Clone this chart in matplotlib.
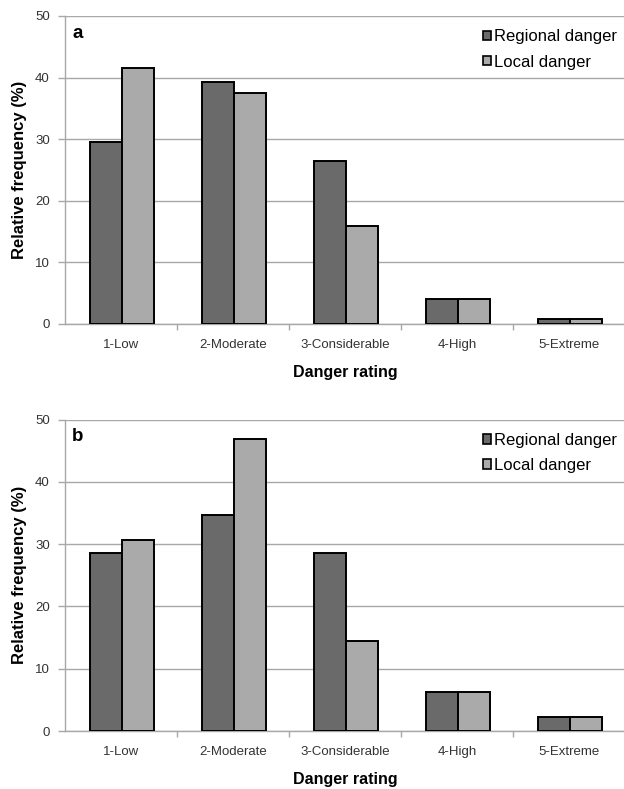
import matplotlib
matplotlib.use("Agg")
import matplotlib.pyplot as plt
from matplotlib.patches import Patch
import numpy as np

plt.rcParams['font.family'] = ['Liberation Sans', 'DejaVu Sans']

categories = ["1-Low", "2-Moderate", "3-Considerable", "4-High", "5-Extreme"]
series_names = ["Regional danger", "Local danger"]
regional_a = [29.6, 39.3, 26.4, 4.0, 0.8]
local_a = [41.6, 37.5, 15.9, 4.0, 0.8]
regional_b = [28.6, 34.7, 28.6, 6.2, 2.2]
local_b = [30.6, 46.9, 14.5, 6.2, 2.2]
panel_labels = ["a", "b"]
y_ticks = [0, 10, 20, 30, 40, 50]

dark = "#6a6a6a"
light = "#aaaaaa"
grid_c = "#a8a8a8"
W, H = 624, 789

fig = plt.figure(figsize=(W / 100, H / 100), dpi=100)

def px_axes(left, top, right, bottom):
    return fig.add_axes([left / W, 1 - bottom / H, (right - left) / W, (bottom - top) / H])

ax_a = px_axes(65, 16, 625, 324)
ax_b = px_axes(65, 419.5, 625, 731)

bw = 0.285
for ax, reg, loc, lab in [(ax_a, regional_a, local_a, panel_labels[0]),
                          (ax_b, regional_b, local_b, panel_labels[1])]:
    x = np.arange(len(categories))
    ax.bar(x - bw / 2 + 0.01, reg, bw, color=dark, edgecolor="black", linewidth=1.4, zorder=3)
    ax.bar(x + bw / 2 + 0.01, loc, bw, color=light, edgecolor="black", linewidth=1.4, zorder=3)
    ax.set_xlim(-0.5, len(categories) - 0.5)
    ax.set_ylim(0, 50)
    ax.set_yticks(y_ticks)
    ax.set_yticklabels([str(t) for t in y_ticks], fontsize=9.5, color="#333333")
    ax.yaxis.grid(True, color=grid_c, linewidth=1.0, zorder=0)
    ax.set_axisbelow(True)
    # category ticks
    ax.set_xticks(x)
    ax.set_xticklabels(categories, fontsize=9.5, color="#333333")
    ax.tick_params(axis="x", length=0, pad=11)
    ax.set_xticks(np.arange(0.5, len(categories) - 0.5, 1.0), minor=True)
    ax.tick_params(axis="x", which="minor", length=4, color=grid_c, width=1.0, direction="out")
    ax.tick_params(axis="y", length=5, color=grid_c, width=1.0, pad=6)
    for s in ["top", "right"]:
        ax.spines[s].set_visible(False)
    ax.spines["left"].set_color(grid_c)
    ax.spines["bottom"].set_color(grid_c)
    ax.spines["left"].set_linewidth(1.0)
    ax.spines["bottom"].set_linewidth(1.0)
    ax.set_xlabel("Danger rating", fontsize=11.5, fontweight="bold", labelpad=10)
    ax.set_ylabel("Relative frequency (%)", fontsize=12, fontweight="bold", labelpad=6)
    ax.text(0.013, 0.972, lab, transform=ax.transAxes, fontsize=13.5, fontweight="bold",
            ha="left", va="top")
    handles = [Patch(facecolor=dark, edgecolor="black", linewidth=1.2),
               Patch(facecolor=light, edgecolor="black", linewidth=1.2)]
    ax.legend(handles, series_names, loc="upper right", bbox_to_anchor=(1.0, 0.984),
              frameon=False, fontsize=12, handlelength=0.5, handleheight=0.5,
              handletextpad=0.15, labelspacing=0.62, borderaxespad=0.1)

fig.savefig("out.png", dpi=100)
